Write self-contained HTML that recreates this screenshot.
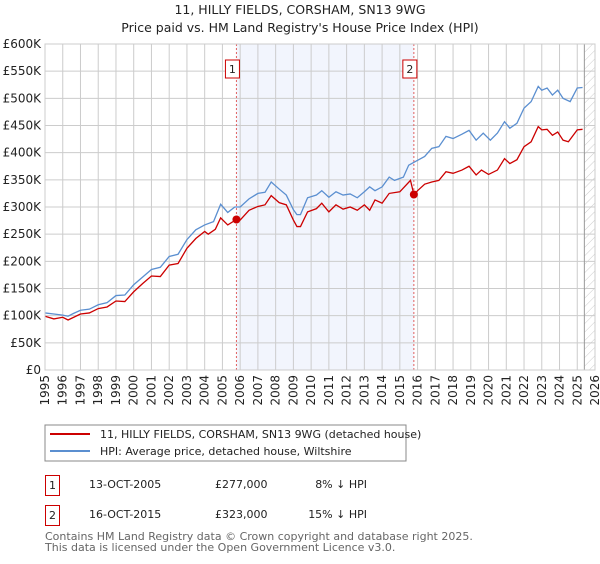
<!DOCTYPE html>
<html><head><meta charset="utf-8"><style>
body{margin:0;background:#fff;font-family:"DejaVu Sans","Liberation Sans",sans-serif;}
svg text{font-family:"DejaVu Sans","Liberation Sans",sans-serif;}
</style></head><body>
<svg id="chart" width="600" height="560" viewBox="0 0 600 560" xmlns="http://www.w3.org/2000/svg">
<defs><pattern id="hatch" width="6" height="6" patternUnits="userSpaceOnUse" patternTransform="rotate(45)"><line x1="0" y1="0" x2="0" y2="6" stroke="#ccc" stroke-width="1"/></pattern></defs>
<text x="300" y="14" text-anchor="middle" font-size="12.5" fill="#222">11, HILLY FIELDS, CORSHAM, SN13 9WG</text>
<text x="300" y="32" text-anchor="middle" font-size="12.5" fill="#222">Price paid vs. HM Land Registry's House Price Index (HPI)</text>
<g id="plot"></g>
<rect x="45" y="425" width="361" height="36" fill="#fff" stroke="#888"/>
<line x1="50" y1="434" x2="90" y2="434" stroke="#cc0000" stroke-width="2"/>
<text x="100" y="438" font-size="11" fill="#222">11, HILLY FIELDS, CORSHAM, SN13 9WG (detached house)</text>
<line x1="50" y1="451" x2="90" y2="451" stroke="#5b8fd0" stroke-width="2"/>
<text x="100" y="455" font-size="11" fill="#222">HPI: Average price, detached house, Wiltshire</text>
<g>
<rect x="45.5" y="475.5" width="14" height="20" fill="#fff" stroke="#cc0000"/>
<text x="52.5" y="489" text-anchor="middle" font-size="11" fill="#222">1</text>
<text x="89" y="488" font-size="11" fill="#222">13-OCT-2005</text>
<text x="215" y="488" font-size="11" fill="#222">£277,000</text>
<text x="367" y="488" text-anchor="end" font-size="11" fill="#222">8% ↓ HPI</text>
</g>
<g>
<rect x="45.5" y="505.5" width="14" height="20" fill="#fff" stroke="#cc0000"/>
<text x="52.5" y="519" text-anchor="middle" font-size="11" fill="#222">2</text>
<text x="89" y="518" font-size="11" fill="#222">16-OCT-2015</text>
<text x="215" y="518" font-size="11" fill="#222">£323,000</text>
<text x="367" y="518" text-anchor="end" font-size="11" fill="#222">15% ↓ HPI</text>
</g>
<text x="45" y="540" font-size="11" fill="#666">Contains HM Land Registry data © Crown copyright and database right 2025.</text>
<text x="45" y="551" font-size="11" fill="#666">This data is licensed under the Open Government Licence v3.0.</text>
</svg>
<script>
const yTicks=[0,50,100,150,200,250,300,350,400,450,500,550,600];
const xYears=[1995,1996,1997,1998,1999,2000,2001,2002,2003,2004,2005,2006,2007,2008,2009,2010,2011,2012,2013,2014,2015,2016,2017,2018,2019,2020,2021,2022,2023,2024,2025,2026];
const hpiT=[1995.0,1995.5,1996.0,1996.3,1996.6,1997.0,1997.5,1998.0,1998.5,1999.0,1999.5,2000.0,2000.5,2001.0,2001.5,2002.0,2002.5,2003.0,2003.5,2004.0,2004.5,2004.9,2005.3,2005.7,2006.0,2006.5,2007.0,2007.4,2007.75,2008.2,2008.6,2009.0,2009.2,2009.4,2009.8,2010.3,2010.6,2011.0,2011.4,2011.8,2012.2,2012.6,2013.0,2013.3,2013.6,2014.0,2014.4,2014.7,2015.2,2015.5,2016.0,2016.4,2016.8,2017.2,2017.6,2018.0,2018.5,2018.9,2019.3,2019.7,2020.1,2020.5,2020.9,2021.2,2021.6,2022.0,2022.4,2022.8,2023.0,2023.3,2023.6,2023.9,2024.2,2024.6,2025.0,2025.3];
const hpiV=[105,103,101,99,104,110,112,120,124,137,138,157,171,185,189,209,213,240,258,267,273,305,290,300,300,315,325,327,346,333,322,295,286,286,317,322,330,318,328,322,324,317,328,337,330,337,355,349,355,377,386,393,408,411,430,426,434,441,423,436,423,436,457,445,454,482,494,522,515,519,506,515,500,494,519,520];
const propT=[1995.0,1995.5,1996.0,1996.3,1997.0,1997.5,1998.0,1998.5,1999.0,1999.5,2000.0,2000.5,2001.0,2001.5,2002.0,2002.5,2003.0,2003.5,2004.0,2004.2,2004.6,2004.9,2005.3,2005.79,2006.0,2006.5,2007.0,2007.4,2007.75,2008.2,2008.6,2009.0,2009.2,2009.4,2009.8,2010.3,2010.6,2011.0,2011.4,2011.8,2012.2,2012.6,2013.0,2013.3,2013.6,2014.0,2014.4,2015.0,2015.6,2015.79,2016.0,2016.4,2016.8,2017.2,2017.6,2018.0,2018.5,2018.9,2019.3,2019.6,2020.0,2020.5,2020.9,2021.2,2021.6,2022.0,2022.4,2022.8,2023.0,2023.3,2023.6,2023.9,2024.2,2024.5,2025.0,2025.3];
const propV=[99,94,97,92,103,105,113,116,127,126,144,159,173,172,193,196,224,242,255,250,259,280,267,277,276,294,301,304,321,308,304,276,264,264,291,297,307,291,304,296,300,294,304,294,313,307,325,328,349,323,330,342,346,349,365,362,368,375,359,368,360,368,389,380,387,411,420,448,442,443,432,438,423,420,442,443];
const saleT=[2005.79,2015.79];
const saleV=[277,323];
const saleLabels=["1","2"];
const X0=45,X1=595,Y0=370,Y1=44;
const xs=t=>X0+(t-1995)/31*(X1-X0);
const ys=v=>Y0-v/600*(Y0-Y1);
const NS="http://www.w3.org/2000/svg";
const g=document.getElementById('plot');
function mk(tag,attrs){const e=document.createElementNS(NS,tag);for(const k in attrs)e.setAttribute(k,attrs[k]);g.appendChild(e);return e;}
let e;
e=mk('rect',{x:xs(saleT[0]),y:Y1,width:xs(saleT[1])-xs(saleT[0]),height:Y0-Y1,fill:'#f2f5fd'});


e=mk('rect',{x:xs(2025.4),y:Y1,width:X1-xs(2025.4),height:Y0-Y1,fill:'url(#hatch)'});


yTicks.forEach(v=>{
 e=mk('line',{x1:X0,x2:X1,y1:ys(v),y2:ys(v),stroke:'#ccc','stroke-width':1});
 
 
 e=mk('text',{x:X0-4,y:ys(v)+4,'text-anchor':'end','font-size':12,fill:'#222'});
 e.textContent=v===0?'£0':'£'+v+'K';
 
 
});
xYears.forEach(y=>{
 e=mk('line',{x1:xs(y),x2:xs(y),y1:Y1,y2:Y0,stroke:'#ccc','stroke-width':1});
 
 
 e=mk('text',{x:xs(y)+4,y:Y0+5,'text-anchor':'end','font-size':12,fill:'#222',transform:`rotate(-90 ${xs(y)+4} ${Y0+5})`});
 e.textContent=y;
 
 
});
e=mk('line',{x1:xs(2025.4),x2:xs(2025.4),y1:Y1,y2:Y0,stroke:'#999','stroke-width':1});


saleT.forEach((t,i)=>{
 e=mk('line',{x1:xs(t),x2:xs(t),y1:Y1,y2:Y0,stroke:'#e06060','stroke-width':1,'stroke-dasharray':'2,2'});
 
 
 e=mk('rect',{x:xs(t)-11,y:60,width:14,height:18,fill:'#fff',stroke:'#cc0000'});
 
 
 e=mk('text',{x:xs(t)-4,y:73,'text-anchor':'middle','font-size':11,fill:'#222'});
 e.textContent=saleLabels[i];
 
 
});
e=mk('polyline',{points:hpiT.map((t,i)=>xs(t)+','+ys(hpiV[i])).join(' '),fill:'none',stroke:'#5b8fd0','stroke-width':1.3});


e=mk('polyline',{points:propT.map((t,i)=>xs(t)+','+ys(propV[i])).join(' '),fill:'none',stroke:'#cc0000','stroke-width':1.3});


saleT.forEach((t,i)=>{
 e=mk('circle',{cx:xs(t),cy:ys(saleV[i]),r:4,fill:'#cc0000'});
 
 
});
e=mk('rect',{x:X0,y:Y1,width:X1-X0,height:Y0-Y1,fill:'none',stroke:'#ccc'});


</script>
</body></html>
